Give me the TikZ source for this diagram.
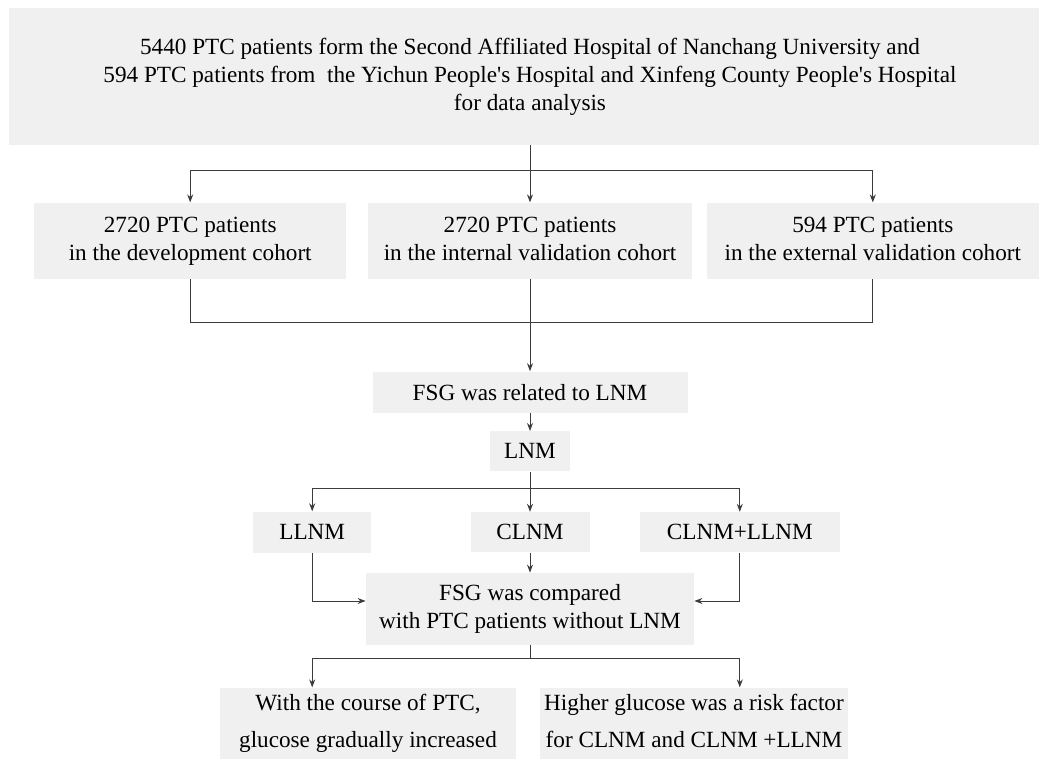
\documentclass[tikz,border=0pt]{standalone}
\usepackage{fontspec}
\setmainfont{Liberation Serif}
\usetikzlibrary{arrows.meta, positioning}

\definecolor{boxgray}{RGB}{240,240,240}
\definecolor{linegray}{RGB}{60,60,60}

\tikzset{
    box/.style={rectangle, fill=boxgray, inner sep=0pt, align=center,
        font=\fontsize{11.6}{14}\selectfont},
    widebox/.style={box, font=\fontsize{11.6}{18.5}\selectfont},
    link/.style={draw=linegray, line width=0.5pt},
}

\begin{document}
\begin{tikzpicture}[node distance=20pt, >={Stealth[length=4pt, width=3pt]}]
    \useasboundingbox (0,0) rectangle (519.5pt,-379.5pt);

    % source
    \node (top) [box, minimum width=521pt, minimum height=68.5pt] at (265pt,-38.25pt)
        {5440 PTC patients form the Second Affiliated Hospital of Nanchang University and\\
         594 PTC patients from\ \ the Yichun People\textquotesingle s Hospital and Xinfeng County People\textquotesingle s Hospital\\
         for data analysis};

    % cohorts
    \node (val) [box, below=28.5pt of top, minimum width=162pt, minimum height=38pt]
        {2720 PTC patients\\in the internal validation cohort\vphantom{p}};
    \node (dev) [box, left=10.5pt of val, minimum width=156pt, minimum height=38pt]
        {2720 PTC patients\\in the development cohort};
    \node (ext) [box, right=7pt of val, minimum width=166pt, minimum height=38pt]
        {594 PTC patients\\in the external validation cohort\vphantom{p}};

    \node (rel) [box, below=46pt of val, minimum width=157.5pt, minimum height=20.5pt] {FSG was related to LNM};
    \node (lnm) [box, below=9pt of rel, minimum width=40pt, minimum height=20pt] {LNM};

    % LNM types
    \node (clnm) [box, below=20pt of lnm, minimum width=59.5pt, minimum height=20pt] {CLNM};
    \node (llnm) [box, left=49.25pt of clnm, minimum width=59pt, minimum height=20.5pt] {LLNM};
    \node (both) [box, right=24.75pt of clnm, minimum width=100pt, minimum height=20pt] {CLNM+LLNM};

    \node (cmp) [box, below=10pt of clnm, minimum width=164pt, minimum height=36pt]
        {FSG was compared\\with PTC patients without LNM};

    % results
    \node (res1) [widebox, below=21pt of cmp, xshift=-81pt, minimum width=148pt, minimum height=36pt]
        {With the course of PTC,\\glucose gradually increased};
    \node (res2) [widebox, below=21pt of cmp, xshift=82pt, minimum width=154pt, minimum height=36pt]
        {Higher glucose was a risk factor\\for CLNM and CLNM +LLNM\vphantom{g}};

    \coordinate (split1) at ([yshift=-12.5pt]top.south);
    \coordinate (merge1) at ([yshift=-21.5pt]val.south);
    \coordinate (split2) at ([yshift=-8.5pt]lnm.south);
    \coordinate (split3) at ([yshift=-6.5pt]cmp.south);

    \draw [link, ->] (top.south) -- (val.north);
    \draw [link, ->] (split1) -| (dev.north);
    \draw [link, ->] (split1) -| (ext.north);

    \draw [link] (dev.south) |- (merge1);
    \draw [link] (ext.south) |- (merge1);
    \draw [link, ->] (val.south) -- (rel.north);
    \draw [link, ->] (rel.south) -- (lnm.north);

    \draw [link, ->] (lnm.south) -- (clnm.north);
    \draw [link, ->] (split2) -| (llnm.north);
    \draw [link, ->] (split2) -| (both.north);

    \draw [link, ->] (clnm.south) -- (cmp.north);
    \draw [link, ->] (llnm.south) |- ([yshift=4pt]cmp.west);
    \draw [link, ->] (both.south) |- ([yshift=4pt]cmp.east);

    \draw [link] (cmp.south) -- (split3);
    \draw [link, ->] (split3) -| (llnm |- res1.north);
    \draw [link, ->] (split3) -| (both |- res2.north);
\end{tikzpicture}
\end{document}
